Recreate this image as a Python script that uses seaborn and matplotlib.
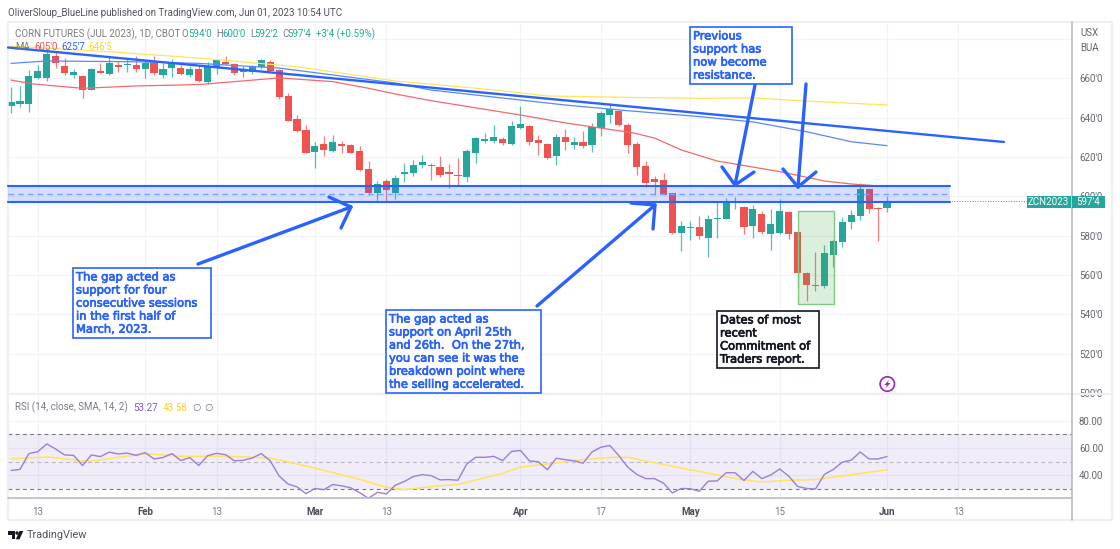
import matplotlib
matplotlib.use("Agg")
import matplotlib.pyplot as plt
import matplotlib.patheffects as pe
from matplotlib.patches import Rectangle, Polygon, Circle
import seaborn as sns
import pandas as pd

W, H = 1120, 549

# daily candles, price in cents
opens = [646.2, 647.2, 646.9, 660.5, 660.5, 671.5, 666.1, 662.0, 661.5, 654.2, 664.0, 662.3, 666.9, 667.1, 666.9, 664.9, 667.8, 661.7, 665.1, 665.1,
         661.7, 664.9, 658.1, 665.4, 668.4, 667.3, 663.2, 663.2, 665.9, 668.4, 664.4, 651.0, 639.6, 634.0, 622.6, 626.5, 623.3, 626.9, 626.2, 623.3,
         613.8, 601.9, 607.9, 601.9, 611.3, 612.1, 615.9, 616.0, 614.7, 612.5, 610.9, 609.8, 622.3, 628.1, 628.2, 629.4, 626.7, 634.9, 635.9, 628.6,
         626.9, 620.3, 630.4, 625.9, 627.6, 625.9, 634.9, 641.5, 643.3, 636.4, 626.4, 615.5, 608.9, 608.2, 601.6, 581.1, 584.1, 584.3, 578.7, 588.4,
         588.7, 596.4, 594.8, 585.0, 590.9, 580.6, 581.3, 591.9, 581.8, 561.2, 555.0, 554.6, 569.9, 576.8, 587.2, 590.1, 603.6, 594.3, 594.0]
highs = [655.9, 656.2, 664.4, 666.9, 674.6, 674.2, 670.3, 664.9, 661.8, 665.2, 668.1, 671.2, 669.0, 669.8, 671.2, 669.5, 671.5, 667.8, 669.8, 666.9,
         666.1, 666.6, 668.3, 669.8, 671.5, 667.8, 666.4, 666.9, 670.0, 669.5, 664.9, 652.5, 641.5, 636.4, 627.6, 630.8, 631.1, 628.4, 626.7, 625.7,
         618.1, 607.9, 608.9, 610.9, 616.9, 618.6, 621.1, 616.9, 620.6, 616.5, 619.6, 624.0, 630.1, 632.5, 636.2, 630.4, 638.6, 646.1, 636.4, 631.3,
         627.4, 631.8, 634.2, 630.4, 633.2, 637.2, 643.7, 647.4, 644.0, 637.2, 627.9, 618.1, 610.4, 611.8, 601.9, 587.7, 587.4, 590.2, 590.6, 597.4,
         599.1, 599.7, 595.2, 595.8, 592.6, 593.5, 598.7, 592.6, 582.1, 561.6, 571.6, 575.3, 577.9, 589.4, 593.1, 606.7, 604.2, 594.5, 600.0]
lows = [642.3, 645.7, 642.7, 659.6, 658.8, 665.2, 661.8, 660.5, 650.3, 653.9, 662.7, 661.8, 663.5, 663.5, 663.5, 660.5, 661.8, 660.0, 661.0, 661.8,
        661.0, 658.4, 657.1, 662.3, 666.9, 661.8, 660.6, 662.3, 664.9, 663.7, 649.8, 638.3, 633.0, 622.0, 614.3, 620.6, 622.6, 622.3, 622.0, 613.1,
        600.8, 597.2, 597.7, 598.9, 607.5, 610.6, 614.2, 608.4, 610.1, 604.2, 605.8, 607.5, 617.2, 627.1, 627.1, 626.2, 625.9, 634.2, 626.2, 621.1,
        619.2, 616.0, 623.7, 624.2, 624.8, 622.8, 630.8, 637.2, 635.9, 622.0, 610.8, 604.7, 600.9, 600.6, 580.6, 572.1, 577.7, 578.4, 569.2, 579.0,
        588.4, 593.6, 580.9, 579.0, 580.9, 572.8, 580.9, 578.5, 553.8, 546.9, 551.6, 553.3, 563.9, 574.0, 583.5, 588.0, 591.4, 577.5, 592.2]
closes = [647.9, 648.6, 661.3, 663.9, 672.5, 667.8, 663.0, 663.4, 654.2, 664.7, 663.0, 667.9, 665.6, 667.4, 664.9, 667.8, 663.0, 664.7, 667.8, 662.3,
          664.9, 658.8, 666.6, 669.3, 667.4, 663.0, 664.5, 666.1, 669.3, 664.0, 650.5, 638.6, 633.5, 622.1, 625.5, 623.7, 627.7, 625.4, 622.1, 613.5,
          601.6, 606.2, 603.0, 609.4, 612.3, 616.0, 617.6, 615.2, 610.9, 611.4, 610.3, 623.0, 629.8, 629.3, 630.4, 627.1, 635.9, 636.9, 627.7, 627.4,
          619.6, 630.4, 627.7, 627.7, 625.4, 635.5, 642.5, 644.5, 636.2, 625.9, 615.0, 607.0, 607.5, 600.9, 581.3, 585.0, 584.5, 579.6, 588.4, 588.9,
          596.4, 596.9, 584.6, 593.8, 581.9, 586.0, 592.4, 580.9, 561.2, 555.0, 554.3, 571.1, 577.3, 586.8, 590.6, 604.0, 593.6, 593.8, 597.5]

# moving averages, read at the bends
ma50_bar = [0, 2.5, 8, 14, 21, 25, 30, 36, 40, 43, 47, 57, 62, 69.5, 72, 75, 79, 86, 91, 94, 98]
ma50 = [659.2, 657.2, 655.0, 656.2, 656.9, 658.4, 660.3, 658.4, 655.0, 652.1, 648.7, 641.4, 637.4, 632.4, 629.7, 623.6, 618.0, 612.6, 607.8, 606.3, 605.0]
ma100_bar = [0, 4, 14, 21, 30, 36, 43, 47, 62, 69, 77, 83, 89, 94, 98]
ma100 = [667.7, 668.9, 668.5, 667.7, 665.3, 661.8, 657.7, 654.1, 646.5, 643.6, 640.6, 637.9, 632.9, 627.8, 625.8]
ma200_bar = [0, 11, 21, 32, 43, 54, 60, 69, 77, 83, 89, 98]
ma200 = [676.5, 673.6, 670.4, 666.0, 658.7, 654.2, 651.1, 650.4, 649.9, 650.1, 648.5, 646.5]

rsi = [43.6, 44.3, 55.9, 57.3, 63.0, 59.2, 54.9, 54.6, 47.2, 54.9, 53.7, 57.0, 55.6, 56.3, 54.6, 56.6, 52.0, 53.0, 55.9, 50.8,
       53.0, 47.2, 54.4, 56.1, 55.1, 50.6, 51.0, 52.7, 55.9, 50.6, 39.5, 33.6, 31.6, 26.6, 30.4, 29.5, 33.3, 32.3, 30.9, 27.3,
       23.2, 27.6, 26.4, 32.8, 35.5, 39.1, 40.5, 39.8, 36.7, 36.9, 36.4, 48.4, 53.2, 53.2, 53.9, 50.8, 57.5, 58.2, 50.6, 49.9,
       44.1, 52.5, 51.5, 50.6, 48.9, 57.1, 60.6, 61.8, 54.4, 46.0, 40.7, 37.6, 37.6, 34.3, 27.1, 30.4, 30.2, 28.3, 35.7, 35.9,
       41.9, 41.9, 36.2, 42.9, 37.6, 40.3, 44.6, 39.5, 31.9, 30.4, 30.0, 40.7, 44.3, 49.6, 51.1, 57.1, 52.0, 52.0, 53.7]
rsi_ma_bar = [0, 4, 8, 9, 15, 19, 24, 29, 34, 39, 42, 44, 48, 50, 55, 57, 61, 64, 67.5, 69, 73, 77, 81.4, 84, 87, 90, 93, 98]
rsi_ma = [52.0, 53.5, 50.6, 50.4, 55.9, 53.9, 53.9, 52.7, 45.3, 37.1, 31.2, 29.5, 32.4, 33.3, 41.5, 46.0, 49.1, 51.5, 53.2, 53.2, 47.9, 42.9, 37.1, 35.2, 36.4, 36.9, 39.5, 44.1]

time_bars = [3, 15, 23, 34, 42, 57, 66, 76, 86, 98, 106]
time_labels = ["13", "Feb", "13", "Mar", "13", "Apr", "17", "May", "15", "Jun", "13"]
month_labels = ["Feb", "Mar", "Apr", "May", "Jun"]
price_ticks = [500, 520, 540, 560, 580, 600, 620, 640, 660, 680]
rsi_ticks = [40, 60, 80]

RED = "#ef5350"
GREEN = "#26a69a"
BLUE = "#2962ff"
GREY = "#787b86"
GRID = "#f0f3fa"
PURPLE = "#7e57c2"
AXIS = "#b2b5be"
UI_FONT = ["Roboto", "DejaVu Sans"]
UI_SIZE = 7.0

sns.set_theme(style="white")
plt.rcParams["font.family"] = UI_FONT

candles = pd.DataFrame({"bar": range(len(opens)), "open": opens, "high": highs, "low": lows, "close": closes})
candles["color"] = [GREEN if c >= o else RED for o, c in zip(opens, closes)]


def box(x0, y0, x1, y1):
    # pixel box to figure fraction
    return [x0 / W, 1 - y1 / H, (x1 - x0) / W, (y1 - y0) / H]


fig = plt.figure(figsize=(W / 100, H / 100), dpi=100, facecolor="white")
ax = fig.add_axes(box(8, 22, 1072, 394))
ax_rsi = fig.add_axes(box(8, 394, 1072, 498.3), sharex=ax)

# price pane
ax.vlines(candles["bar"], candles["low"], candles["high"], color=candles["color"], linewidth=0.9, alpha=0.75, zorder=3)
ax.bar(candles["bar"], candles["close"] - candles["open"], bottom=candles["open"], width=0.8, color=candles["color"], linewidth=0, zorder=4)
for bar, values, col in [(ma200_bar, ma200, "#ffe45c"), (ma100_bar, ma100, "#5b86ff"), (ma50_bar, ma50, "#f4696a")]:
    sns.lineplot(x=bar, y=values, ax=ax, color=col, linewidth=0.9, estimator=None, errorbar=None, zorder=5)
ax.hlines(closes[-1], len(closes) - 1, 118.7, color=GREEN, linewidth=0.7, linestyle=":", zorder=2)

ax.set_xlim(-0.336, 118.7)
ax.set_ylim(499.4, 688.75)
ax.set_yticks(price_ticks)
ax.set_yticklabels([f"{p}'0" if p != 680 else "" for p in price_ticks])
ax.yaxis.tick_right()
ax.grid(True, color=GRID, linewidth=0.9)
ax.set_axisbelow(True)
ax.tick_params(axis="x", length=0, labelbottom=False)
ax.tick_params(axis="y", length=0, labelsize=UI_SIZE, labelcolor="#63666f", pad=5)

# rsi pane
ax_rsi.axhspan(30, 70, color=PURPLE, alpha=0.11, linewidth=0, zorder=1)
for level, col in [(70, GREY), (50, "#b9b8c4"), (30, GREY)]:
    ax_rsi.axhline(level, color=col, linewidth=0.8, linestyle=(0, (3.5, 3)), zorder=2)
sns.lineplot(x=rsi_ma_bar, y=rsi_ma, ax=ax_rsi, color="#ffe45c", linewidth=1.1, estimator=None, errorbar=None, zorder=3)
sns.lineplot(x=list(candles["bar"]), y=rsi, ax=ax_rsi, color="#9c80d2", linewidth=1.0, estimator=None, errorbar=None, zorder=4)
ax_rsi.set_ylim(23.2, 99.5)
ax_rsi.set_yticks(rsi_ticks)
ax_rsi.set_yticklabels([f"{v}.00" for v in rsi_ticks])
ax_rsi.yaxis.tick_right()
ax_rsi.grid(True, color=GRID, linewidth=0.9)
ax_rsi.set_axisbelow(True)
ax_rsi.set_xticks(time_bars)
ax_rsi.set_xticklabels(time_labels)
ax_rsi.tick_params(axis="x", length=0, labelsize=UI_SIZE, labelcolor="#777a85", pad=6)
ax_rsi.tick_params(axis="y", length=0, labelsize=UI_SIZE, labelcolor="#63666f", pad=5)
for lab in ax_rsi.get_xticklabels():
    if lab.get_text() in month_labels:
        lab.set_color("#4a4d57")
        lab.set_fontweight("bold")

for a in (ax, ax_rsi):
    sns.despine(ax=a, left=True, top=True, bottom=True, right=True)
ax.set_xlabel("")
ax_rsi.set_xlabel("")

# overlay in pixel coordinates for the drawn notes and the chrome around the panes
ov = fig.add_axes([0, 0, 1, 1], facecolor="none")
ov.set_xlim(0, W)
ov.set_ylim(H, 0)
ov.axis("off")


def seg(pts, color=BLUE, lw=1.5, **kw):
    ov.plot([p[0] for p in pts], [p[1] for p in pts], color=color, linewidth=lw, solid_capstyle="round", **kw)


def label(x, y, s, color=GREY, size=UI_SIZE, **kw):
    ov.text(x, y, s, color=color, fontsize=size, va="center", ha=kw.pop("ha", "left"), **kw)


def arrow(start, tip, barb1, barb2):
    seg([start, tip], lw=2.4)
    seg([barb1, tip, barb2], lw=2.4)


def note(x0, y0, x1, y1, lines, color=BLUE):
    ov.add_patch(Rectangle((x0, y0), x1 - x0, y1 - y0, facecolor="white", edgecolor=color, linewidth=1.2, zorder=6))
    for k, line in enumerate(lines):
        ov.text(x0 + 3, y0 + 9 + k * 13.05, line, color=color, fontsize=8.3, family="DejaVu Sans", va="center", zorder=7,
                path_effects=[pe.withStroke(linewidth=0.5, foreground=color)])


# frame and axis lines
ov.add_patch(Rectangle((8, 22), 1104, 498, fill=False, edgecolor="#e9ebf2", linewidth=1.1))
seg([(8, 394), (1112, 394)], color="#eeeff5", lw=1.6)
seg([(8, 498.3), (1072.4, 498.3)], color=AXIS, lw=1.1)
seg([(1072.4, 22), (1072.4, 520)], color=AXIS, lw=1.1)

# gap band
ov.add_patch(Rectangle((8, 186), 942, 15.7, facecolor=BLUE, alpha=0.2, linewidth=0))
seg([(8, 186), (950, 186)], lw=1.5)
seg([(8, 201.7), (950, 201.7)], lw=1.5)
ov.plot([8, 950], [193.6, 193.6], color="#7f9fff", linewidth=1.0, linestyle=(0, (4, 3)))

# trend line
seg([(8, 47.5), (1004, 142)], lw=1.7)

# cot dates box
ov.add_patch(Rectangle((797.7, 211), 36, 93.3, facecolor="#4caf50", alpha=0.2, linewidth=0))
ov.add_patch(Rectangle((797.7, 211), 36, 93.3, fill=False, edgecolor="#81c784", linewidth=1.0))

# arrows
arrow((198, 264), (351, 207), (329, 197), (341, 228))
arrow((537, 306), (655, 205), (631, 203), (653, 229))
arrow((755, 85), (735, 185), (722, 167), (754, 172))
arrow((806, 84), (798, 187), (783, 169), (816, 172))

# notes
note(73, 268, 211, 338, ["The gap acted as", "support for four", "consecutive sessions", "in the first half of", "March, 2023."])
note(386, 310, 541, 393, ["The gap acted as", "support on April 25th", "and 26th.  On the 27th,", "you can see it was the", "breakdown point where", "the selling accelerated."])
note(690, 27, 792, 84, ["Previous", "support has", "now become", "resistance."])
note(717, 311, 819, 368, ["Dates of most", "recent", "Commitment of", "Traders report."], color="#131722")

# header and legends
label(8, 12.5, "OliverSloup_BlueLine published on TradingView.com, Jun 01, 2023 10:54 UTC", color="#50535e")
label(15, 34, "CORN FUTURES (JUL 2023), 1D, CBOT")
for x, vx, head, val in [(181.5, 188.3, "O", "594'0"), (216, 222, "H", "600'0"), (250, 254, "L", "592'2"), (282, 287.5, "C", "597'4")]:
    label(x, 34, head)
    label(vx, 34, val, color=GREEN)
label(316, 34, "+3'4 (+0.59%)", color=GREEN)
label(15, 47.5, "MA")
label(34, 47.5, "605'0", color=RED)
label(61, 47.5, "625'7", color=BLUE)
label(88, 47.5, "646'5", color="#f5d327")
label(15, 407.7, "RSI (14, close, SMA, 14, 2)")
label(133.5, 407.7, "53.27", color=PURPLE)
label(163, 407.7, "43.58", color="#f5d327")
label(192.5, 407.7, "∅")
label(204, 407.7, "∅")
label(1080, 32.5, "USX", color="#63666f")
label(1080, 48, "BUA", color="#63666f")

# last price tag
ov.add_patch(Rectangle((1026.7, 195.7), 44, 12.6, facecolor=GREEN, linewidth=0, zorder=6))
ov.add_patch(Rectangle((1071.7, 195.7), 33.3, 12.6, facecolor=GREEN, linewidth=0, zorder=6))
label(1048.7, 202, "ZCN2023", color="white", ha="center", zorder=7)
label(1088.3, 202, "597'4", color="white", ha="center", zorder=7)

# lightning badge
ov.add_patch(Circle((887.3, 384), 7.2, fill=False, edgecolor="#9c27b0", linewidth=1.2))
ov.add_patch(Polygon([(889.5, 379.5), (884.3, 385), (887, 385), (885.3, 388.5), (890.4, 383), (887.6, 383)], facecolor="#9c27b0", linewidth=0))

# footer logo
ov.add_patch(Polygon([(8, 531), (15.3, 531), (15.3, 539.3), (11.8, 539.3), (11.8, 534.5), (8, 534.5)], facecolor="#131722", linewidth=0))
ov.add_patch(Circle((17, 533), 1.7, facecolor="#131722", linewidth=0))
ov.add_patch(Polygon([(19.5, 531), (23.3, 531), (19.5, 539.3), (15.8, 539.3)], facecolor="#131722", linewidth=0))
label(27, 535.3, "TradingView", color="#50535e", size=7.8)

fig.savefig("out.png", dpi=100)
